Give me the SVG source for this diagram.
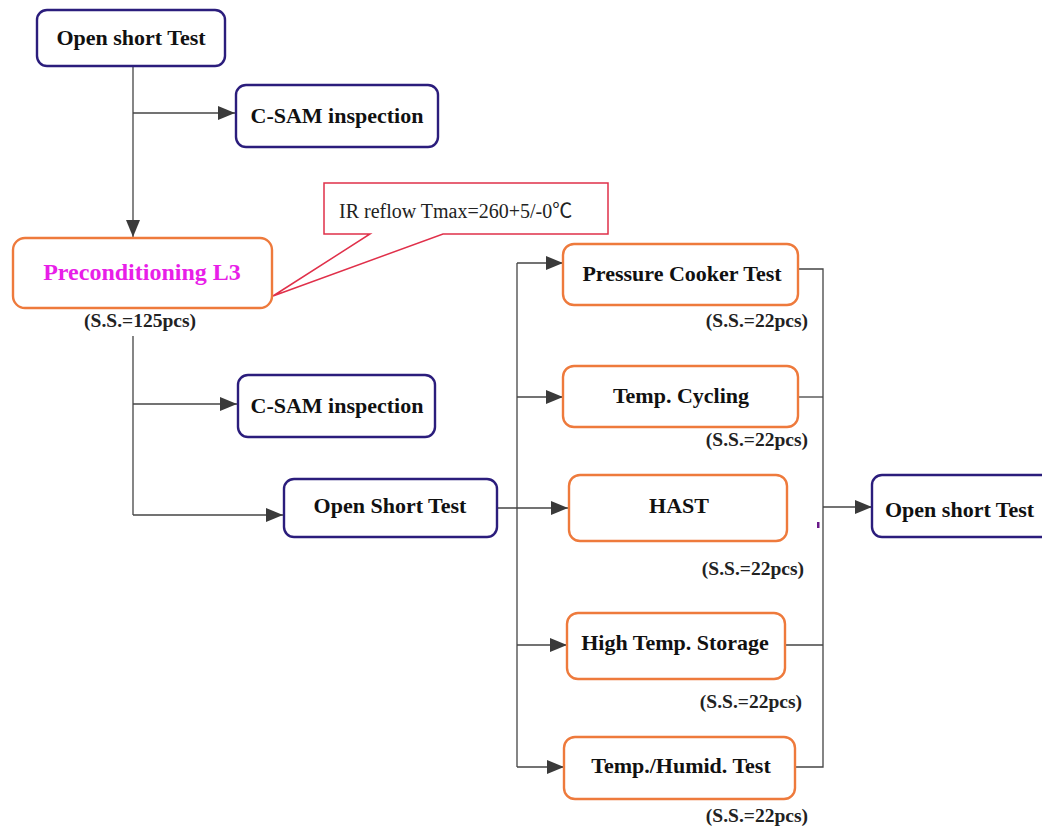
<svg xmlns="http://www.w3.org/2000/svg" width="1042" height="829" viewBox="0 0 1042 829">
<style>
.nav{fill:#fff;stroke:#2b1d7c;stroke-width:2.4}
.org{fill:#fff;stroke:#ee7a3c;stroke-width:2.4}
.lbl{font-family:"Liberation Serif","Times New Roman",serif;font-weight:bold;font-size:22px;fill:#111;text-anchor:middle}
.ss{font-family:"Liberation Serif","Times New Roman",serif;font-weight:bold;font-size:19.5px;fill:#222;text-anchor:end}
.ln{fill:none;stroke:#444;stroke-width:1.3}
.arr{fill:none;stroke:#444;stroke-width:1.3;marker-end:url(#ah)}
</style>
<defs>
<marker id="ah" markerUnits="userSpaceOnUse" markerWidth="18" markerHeight="14" refX="17" refY="7" orient="auto">
<path d="M0,0 L17,7 L0,14 z" fill="#3a3a3a"/>
</marker>
</defs>
<rect width="1042" height="829" fill="#fff"/>
<g id="connectors">
<path class="arr" d="M133,66 V237"/>
<path class="arr" d="M133,113 H235"/>
<path class="ln" d="M133,336 V515"/>
<path class="arr" d="M133,404 H237"/>
<path class="arr" d="M133,515 H283"/>
<path class="arr" d="M497,508 H568"/>
<path class="ln" d="M517,263 V767"/>
<path class="arr" d="M517,263 H563"/>
<path class="arr" d="M517,397 H563"/>
<path class="arr" d="M517,645 H567"/>
<path class="arr" d="M517,767 H564"/>
<path class="ln" d="M798,269 H823 V767 H795"/>
<path class="ln" d="M798,397 H823"/>
<path class="ln" d="M785,645 H823"/>
<path class="arr" d="M823,507 H872"/>
</g>
<g id="callout">
<path d="M324,183 H608 V234 H443 L273,296 L370,234 H324 Z" fill="#fff" stroke="#e0304a" stroke-width="1.5" stroke-linejoin="miter"/>
<text x="339" y="218" font-family="'Liberation Serif','Times New Roman','Noto Sans CJK SC',serif" font-size="20" fill="#222">IR reflow Tmax=260+5/-0℃</text>
</g>
<g id="n-open-top">
<rect class="nav" x="37" y="10" width="188" height="56" rx="10"/>
<text class="lbl" x="131" y="45">Open short Test</text>
</g>
<g id="n-csam1">
<rect class="nav" x="236" y="85" width="202" height="62" rx="10"/>
<text class="lbl" x="337" y="123">C-SAM inspection</text>
</g>
<g id="n-precond">
<rect class="org" x="13" y="238" width="259" height="70" rx="12"/>
<text x="142" y="280" font-family="'Liberation Serif','Times New Roman',serif" font-weight="bold" font-size="24" fill="#e81ee8" text-anchor="middle">Preconditioning L3</text>
<text class="ss" x="196" y="327">(S.S.=125pcs)</text>
</g>
<g id="n-csam2">
<rect class="nav" x="238" y="375" width="197" height="62" rx="10"/>
<text class="lbl" x="337" y="413">C-SAM inspection</text>
</g>
<g id="n-open-mid">
<rect class="nav" x="284" y="479" width="213" height="58" rx="10"/>
<text class="lbl" x="390" y="513">Open Short Test</text>
</g>
<g id="n-pct">
<rect class="org" x="563" y="244" width="235" height="61" rx="11"/>
<text class="lbl" x="682" y="281">Pressure Cooker Test</text>
<text class="ss" x="808" y="327">(S.S.=22pcs)</text>
</g>
<g id="n-tc">
<rect class="org" x="563" y="366" width="235" height="61" rx="11"/>
<text class="lbl" x="681" y="403">Temp. Cycling</text>
<text class="ss" x="808" y="446">(S.S.=22pcs)</text>
</g>
<g id="n-hast">
<rect class="org" x="569" y="475" width="218" height="66" rx="11"/>
<text class="lbl" x="679" y="513">HAST</text>
<text class="ss" x="804" y="575">(S.S.=22pcs)</text>
</g>
<g id="n-hts">
<rect class="org" x="567" y="613" width="218" height="66" rx="11"/>
<text class="lbl" x="675" y="650">High Temp. Storage</text>
<text class="ss" x="802" y="708">(S.S.=22pcs)</text>
</g>
<g id="n-th">
<rect class="org" x="564" y="737" width="231" height="62" rx="11"/>
<text class="lbl" x="681" y="773">Temp./Humid. Test</text>
<text class="ss" x="808" y="822">(S.S.=22pcs)</text>
</g>
<g id="n-open-right">
<rect class="nav" x="872" y="475" width="180" height="62" rx="10"/>
<text class="lbl" x="885" y="517" text-anchor="start" style="text-anchor:start">Open short Test</text>
</g>
<rect x="817" y="522" width="2.5" height="6" fill="#6a1a8a"/>
</svg>
